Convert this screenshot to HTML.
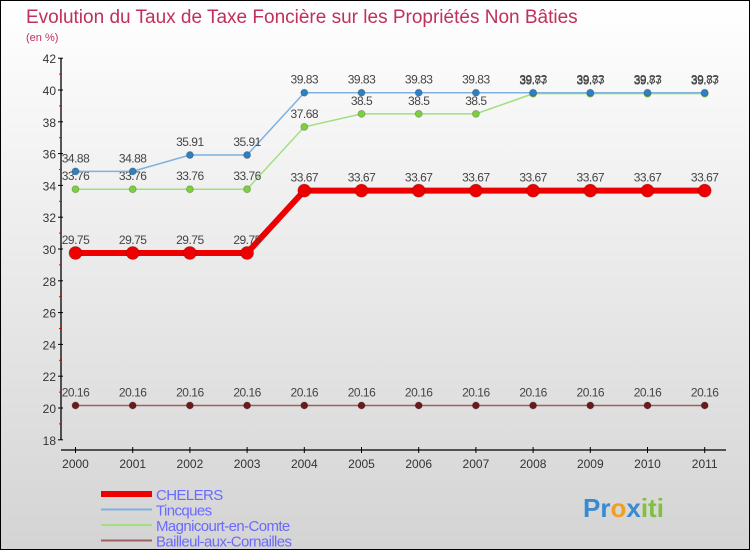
<!DOCTYPE html>
<html><head><meta charset="utf-8"><style>
body{margin:0}
#c{width:748px;height:548px;border:1px solid #000;background:linear-gradient(#fff,#d4d4d4);position:relative;overflow:hidden;font-family:"Liberation Sans",sans-serif}
</style></head><body>
<div id="c">
<svg id="s" width="748" height="548"></svg>
</div>
<script>
const years=["2000","2001","2002","2003","2004","2005","2006","2007","2008","2009","2010","2011"];
const chelers=[29.75,29.75,29.75,29.75,33.67,33.67,33.67,33.67,33.67,33.67,33.67,33.67];
const tincques=[34.88,34.88,35.91,35.91,39.83,39.83,39.83,39.83,39.83,39.83,39.83,39.83];
const magnicourt=[33.76,33.76,33.76,33.76,37.68,38.5,38.5,38.5,39.77,39.77,39.77,39.77];
const bailleul=[20.16,20.16,20.16,20.16,20.16,20.16,20.16,20.16,20.16,20.16,20.16,20.16];
const yTicks=[18,20,22,24,26,28,30,32,34,36,38,40,42];
const NS="http://www.w3.org/2000/svg";
const s=document.getElementById('s');
function el(t,a,p){const e=document.createElementNS(NS,t);for(const k in a)e.setAttribute(k,a[k]);(p||s).appendChild(e);return e;}
const X=i=>74.5+i*57.2;
const Y=v=>407-(v-20)*15.9;
let t=el('text',{x:25,y:22,fill:'#c0305a','font-size':19});t.textContent='Evolution du Taux de Taxe Foncière sur les Propriétés Non Bâties';

t=el('text',{x:25,y:40,fill:'#c0305a','font-size':11});t.textContent='(en %)';

let a=el('line',{x1:60,y1:Y(42),x2:60,y2:Y(18),stroke:'#000','stroke-width':1.3});

yTicks.forEach(v=>{el('line',{x1:57,x2:62,y1:Y(v),y2:Y(v),stroke:'#000'});
 if(v<42){const r=el('line',{x1:58,x2:61,y1:Y(v+1),y2:Y(v+1),stroke:'#e00'});}
 const l=el('text',{x:55,y:Y(v)+5,'text-anchor':'end','font-size':12,fill:'#333'});l.textContent=v;
 });
a=el('line',{x1:60,y1:449,x2:725,y2:449,stroke:'#000','stroke-width':1.3});

years.forEach((y,i)=>{el('line',{x1:X(i),x2:X(i),y1:446,y2:452,stroke:'#000'});
 const l=el('text',{x:X(i),y:467,'text-anchor':'middle','font-size':12,fill:'#333'});l.textContent=y;
 });
function series(d,color,w,r,name,lab){
 const g=el('g',{});
 el('polyline',{points:d.map((v,i)=>X(i)+','+Y(v)).join(' '),fill:'none',stroke:color,'stroke-width':w},g);
 d.forEach((v,i)=>{const c=el('circle',{cx:X(i),cy:Y(v),r:r,fill:lab,stroke:'#0003'},g);
  
  const tx=el('text',{x:X(i),y:Y(v)-9,'text-anchor':'middle','font-size':12,fill:'#444','letter-spacing':'-0.5'},g);tx.textContent=v;});
}
series(bailleul,'#a06060',1.5,3.5,'bailleul','#6a1a1a');
series(magnicourt,'#a0e080',1.5,3.5,'magnicourt','#7cd040');
series(tincques,'#80b0e0',1.5,3.5,'tincques','#3080c0');
series(chelers,'#ee0000',6,6.5,'chelers','#ee0000');
const leg=[['CHELERS','#ee0000',6],['Tincques','#80b0e0',2],['Magnicourt-en-Comte','#a0e080',2],['Bailleul-aux-Cornailles','#a06060',2]];
leg.forEach((l,i)=>{const y=493+i*15.5;
 const ln=el('line',{x1:100,x2:151,y1:y,y2:y,stroke:l[1],'stroke-width':l[2]});
 
 const tx=el('text',{x:155,y:y+6,'font-size':15,fill:'#6a6aff','letter-spacing':'-0.6'});tx.textContent=l[0];
 });
const lg=el('text',{x:582,y:516,'font-size':26,'font-weight':'bold',fill:'#3a8ad0'});
lg.innerHTML='<tspan fill="#3a8ad0">Pr</tspan><tspan fill="#f0a020">o</tspan><tspan fill="#3a8ad0">x</tspan><tspan fill="#80c040">iti</tspan>';

</script>
</body></html>
